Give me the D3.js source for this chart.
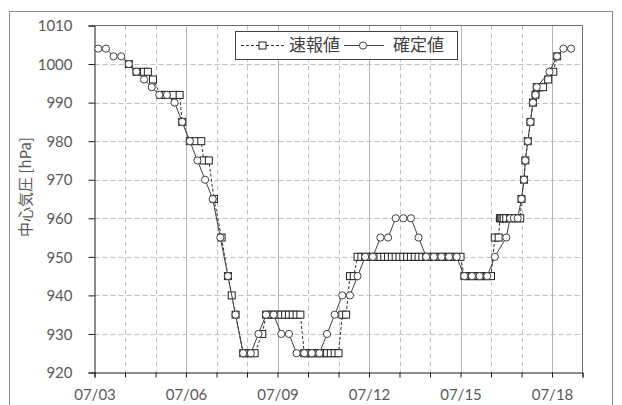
<!DOCTYPE html>
<html>
<head>
<meta charset="utf-8">
<script src="https://cdn.jsdelivr.net/npm/d3@7"></script>
<style>
  html, body { margin: 0; padding: 0; background: #fff; }
  svg { display: block; }
  .tick text { font-family: Lato, "Noto Sans", sans-serif; }
</style>
</head>
<body>
<svg id="chart" width="622" height="405"></svg>
<script>
// Central pressure of the typhoon, July 2015 (JST)
const yTickValues = [920, 930, 940, 950, 960, 970, 980, 990, 1000, 1010];
const xTickLabels = ["07/03", "07/06", "07/09", "07/12", "07/15", "07/18"];
const seriesNames = ["速報値", "確定値"];

// 確定値 (best track)
const finalTimes = [
  "07/03 03:00", "07/03 09:00", "07/03 15:00", "07/03 21:00",
  "07/04 03:00", "07/04 09:00", "07/04 15:00", "07/04 21:00",
  "07/05 03:00", "07/05 09:00", "07/05 15:00", "07/05 21:00",
  "07/06 03:00", "07/06 09:00", "07/06 15:00", "07/06 21:00",
  "07/07 03:00", "07/07 09:00", "07/07 15:00", "07/07 21:00",
  "07/08 03:00", "07/08 09:00", "07/08 15:00", "07/08 21:00",
  "07/09 03:00", "07/09 09:00", "07/09 15:00", "07/09 21:00",
  "07/10 03:00", "07/10 09:00", "07/10 15:00", "07/10 21:00",
  "07/11 03:00", "07/11 09:00", "07/11 15:00", "07/11 21:00",
  "07/12 03:00", "07/12 09:00", "07/12 15:00", "07/12 21:00",
  "07/13 03:00", "07/13 09:00", "07/13 15:00", "07/13 21:00",
  "07/14 03:00", "07/14 09:00", "07/14 15:00", "07/14 21:00",
  "07/15 03:00", "07/15 09:00", "07/15 15:00", "07/15 21:00",
  "07/16 03:00", "07/16 12:00", "07/16 15:00", "07/16 18:00", "07/16 21:00",
  "07/17 00:00", "07/17 02:00", "07/17 03:00", "07/17 05:00", "07/17 07:00",
  "07/17 09:00", "07/17 11:00", "07/17 12:00", "07/17 22:00",
  "07/18 04:00", "07/18 09:00", "07/18 15:00"
];
const finalValues = [
  1004, 1004, 1002, 1002,
  1000, 998, 996, 994,
  992, 992, 990, 985,
  980, 975, 970, 965,
  955, 945, 935, 925,
  925, 930, 935, 935,
  930, 930, 925, 925,
  925, 925, 930, 935,
  940, 940, 945, 950,
  950, 955, 955, 960,
  960, 960, 955, 950,
  950, 950, 950, 950,
  945, 945, 945, 945,
  950, 955, 960, 960, 960,
  965, 970, 975, 980, 985,
  990, 992, 994, 998,
  1002, 1004, 1004
];

// 速報値 (preliminary reports)
const prelimTimes = [
  "07/04 03:00", "07/04 09:00", "07/04 15:00", "07/04 18:00", "07/04 22:00",
  "07/05 04:00", "07/05 08:00", "07/05 14:00", "07/05 19:00", "07/05 21:00",
  "07/06 03:00", "07/06 08:00", "07/06 12:00", "07/06 14:00", "07/06 18:00", "07/06 22:00",
  "07/07 04:00", "07/07 09:00", "07/07 12:00", "07/07 15:00", "07/07 21:00",
  "07/08 00:00", "07/08 03:00", "07/08 06:00", "07/08 12:00",
  "07/08 15:00", "07/08 18:00", "07/08 21:00",
  "07/09 00:00", "07/09 03:00", "07/09 06:00", "07/09 09:00", "07/09 12:00", "07/09 15:00", "07/09 18:00",
  "07/09 21:00",
  "07/10 00:00", "07/10 03:00", "07/10 06:00", "07/10 09:00", "07/10 12:00", "07/10 15:00", "07/10 18:00", "07/10 21:00",
  "07/11 00:00", "07/11 03:00", "07/11 06:00", "07/11 09:00", "07/11 12:00",
  "07/11 15:00", "07/11 18:00", "07/11 21:00",
  "07/12 00:00", "07/12 03:00", "07/12 06:00", "07/12 09:00", "07/12 12:00", "07/12 15:00", "07/12 18:00", "07/12 21:00",
  "07/13 00:00", "07/13 03:00", "07/13 06:00", "07/13 09:00", "07/13 12:00", "07/13 15:00", "07/13 18:00", "07/13 21:00",
  "07/14 00:00", "07/14 03:00", "07/14 06:00", "07/14 09:00", "07/14 12:00", "07/14 15:00", "07/14 18:00", "07/14 21:00",
  "07/15 00:00", "07/15 03:00", "07/15 06:00", "07/15 09:00", "07/15 12:00", "07/15 15:00", "07/15 18:00", "07/15 21:00",
  "07/16 00:00", "07/16 03:00", "07/16 06:00",
  "07/16 07:00", "07/16 08:00", "07/16 09:00", "07/16 10:00", "07/16 12:00", "07/16 15:00", "07/16 18:00", "07/16 21:00", "07/16 23:00",
  "07/17 00:00", "07/17 02:00", "07/17 03:00", "07/17 05:00", "07/17 07:00", "07/17 09:00", "07/17 11:00",
  "07/17 12:00", "07/17 13:00", "07/17 14:00", "07/17 17:00", "07/17 21:00",
  "07/18 01:00", "07/18 04:00"
];
const prelimValues = [
  1000, 998, 998, 998, 996,
  992, 992, 992, 992, 985,
  980, 980, 980, 975, 975, 965,
  955, 945, 940, 935, 925,
  925, 925, 925, 930,
  935, 935, 935,
  935, 935, 935, 935, 935, 935, 935,
  925,
  925, 925, 925, 925, 925, 925, 925, 925,
  925, 935, 935, 945, 945,
  950, 950, 950,
  950, 950, 950, 950, 950, 950, 950, 950,
  950, 950, 950, 950, 950, 950, 950, 950,
  950, 950, 950, 950, 950, 950, 950, 950,
  950, 945, 945, 945, 945, 945, 945, 945,
  945, 955, 955,
  960, 960, 960, 960, 960, 960, 960, 960, 960,
  965, 970, 975, 980, 985, 990, 992,
  994, 994, 994, 994, 996,
  998, 1002
];

const parseTime = d3.utcParse("%Y/%m/%d %H:%M");
const toDate = s => parseTime("2015/" + s);
const prelim = prelimTimes.map((t, i) => ({ t: toDate(t), v: prelimValues[i] }));
const final = finalTimes.map((t, i) => ({ t: toDate(t), v: finalValues[i] }));

const svg = d3.select("#chart");
const m = { left: 94.5, right: 582.5, top: 25.5, bottom: 372.5 };

// outer chart frame
svg.append("rect")
  .attr("x", 9.5).attr("y", 11.5)
  .attr("width", 603).attr("height", 410)
  .attr("fill", "#fff").attr("stroke", "#8c8c8c").attr("stroke-width", 1);

const x = d3.scaleUtc()
  .domain([toDate("07/03 00:00"), toDate("07/19 00:00")])
  .range([m.left, m.right]);
const y = d3.scaleLinear()
  .domain([920, 1010])
  .range([m.bottom, m.top]);

const days = d3.utcDay.range(toDate("07/03 00:00"), d3.utcDay.offset(toDate("07/19 00:00"), 1));
const fmt = d3.utcFormat("%m/%d");
const labelled = d => xTickLabels.includes(fmt(d));

// grid
const grid = svg.append("g");
grid.selectAll("line.h")
  .data(yTickValues.filter(v => v > 920 && v < 1010))
  .join("line")
  .attr("x1", m.left).attr("x2", m.right)
  .attr("y1", d => Math.round(y(d)) + 0.5).attr("y2", d => Math.round(y(d)) + 0.5)
  .attr("stroke", "#bfbfbf").attr("stroke-dasharray", "5,3");
grid.selectAll("line.v")
  .data(days.filter(d => +d > +x.domain()[0] && +d < +x.domain()[1]))
  .join("line")
  .attr("x1", d => Math.round(x(d)) + 0.5).attr("x2", d => Math.round(x(d)) + 0.5)
  .attr("y1", m.top).attr("y2", m.bottom)
  .attr("stroke", d => labelled(d) ? "#b4b4b4" : "#c4c4c4")
  .attr("stroke-dasharray", d => labelled(d) ? null : "5,3");

// plot area border (top/right)
svg.append("path")
  .attr("d", `M${m.left},${m.top}H${m.right}V${m.bottom}`)
  .attr("fill", "none").attr("stroke", "#6e6e6e");

// axes
const yAxis = d3.axisLeft(y).tickValues(yTickValues).tickSize(6).tickPadding(16)
  .tickFormat(d3.format("d"));
const gy = svg.append("g").attr("transform", `translate(${m.left},0)`).call(yAxis);
const xAxis = d3.axisBottom(x).tickValues(days).tickSize(5).tickPadding(12)
  .tickFormat(d => labelled(d) ? fmt(d) : "");
const gx = svg.append("g").attr("transform", `translate(0,${m.bottom})`).call(xAxis);
[gx, gy].forEach(g => {
  g.select(".domain").attr("stroke", "#1a1a1a");
  g.selectAll(".tick line").attr("stroke", "#1a1a1a");
  g.selectAll(".tick text").attr("fill", "#595959").attr("font-size", 15);
});
gy.selectAll(".tick text").attr("dy", "0.35em");

// y-axis title
svg.append("text")
  .attr("transform", "translate(31,187) rotate(-90)")
  .attr("text-anchor", "middle")
  .attr("font-family", "'Noto Sans CJK JP', sans-serif")
  .attr("font-size", 15)
  .attr("fill", "#595959")
  .text("中心気圧 [hPa]");

// series
const line = d3.line().x(d => x(d.t)).y(d => y(d.v));
const plot = svg.append("g");

plot.append("path").datum(prelim)
  .attr("d", line).attr("fill", "none")
  .attr("stroke", "#333").attr("stroke-width", 1).attr("stroke-dasharray", "3,2");
plot.selectAll("rect.p").data(prelim).join("rect")
  .attr("x", d => x(d.t) - 3.5).attr("y", d => y(d.v) - 3.5)
  .attr("width", 7).attr("height", 7)
  .attr("fill", "#fff").attr("stroke", "#222").attr("stroke-width", 1);

plot.append("path").datum(final)
  .attr("d", line).attr("fill", "none")
  .attr("stroke", "#404040").attr("stroke-width", 1);
plot.selectAll("circle.f").data(final).join("circle")
  .attr("cx", d => x(d.t)).attr("cy", d => y(d.v)).attr("r", 3.6)
  .attr("fill", "#fff").attr("stroke", "#404040").attr("stroke-width", 1);

// legend
const lg = svg.append("g");
lg.append("rect").attr("x", 235.5).attr("y", 31.5).attr("width", 222).attr("height", 28)
  .attr("fill", "#fff").attr("stroke", "#404040");
const ly = 45.5;
lg.append("line").attr("x1", 241).attr("x2", 285).attr("y1", ly).attr("y2", ly)
  .attr("stroke", "#333").attr("stroke-dasharray", "3,2");
lg.append("rect").attr("x", 259).attr("y", ly - 3.5).attr("width", 7).attr("height", 7)
  .attr("fill", "#fff").attr("stroke", "#222");
lg.append("line").attr("x1", 344).attr("x2", 384).attr("y1", ly).attr("y2", ly)
  .attr("stroke", "#404040");
lg.append("circle").attr("cx", 363).attr("cy", ly).attr("r", 3.6)
  .attr("fill", "#fff").attr("stroke", "#404040");
lg.selectAll("text").data(seriesNames).join("text")
  .attr("x", (d, i) => i === 0 ? 289 : 393)
  .attr("y", ly).attr("dy", "0.35em")
  .attr("font-family", "'Noto Sans CJK JP', sans-serif")
  .attr("font-size", 17)
  .attr("fill", "#404040")
  .text(d => d);
</script>
</body>
</html>
